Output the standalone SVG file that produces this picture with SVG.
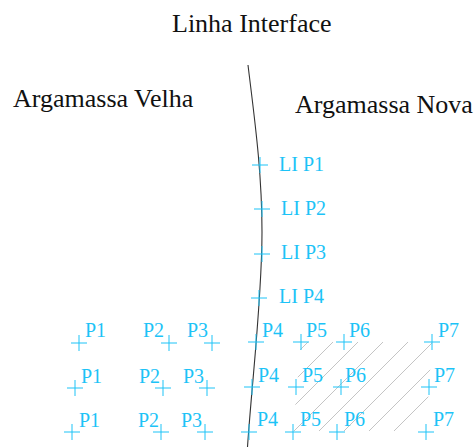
<svg xmlns="http://www.w3.org/2000/svg" width="474" height="447" viewBox="0 0 474 447">
  <style>
    .title { font-family: "Liberation Serif", "Times New Roman", serif; font-size: 26px; fill: #111; }
    .pt { font-family: "Liberation Serif", "Times New Roman", serif; font-size: 20px; fill: #1cc3f7; }
    .cross { stroke: #1cc3f7; stroke-width: 1; fill: none; }
    .hatch { stroke: #c4c4c4; stroke-width: 1; fill: none; }
    .iface { stroke: #333; stroke-width: 1.1; fill: none; }
  </style>
  <defs>
    <path id="x" d="M-8,0H8M0,-8V8" class="cross"/>
    <clipPath id="zone">
      <polygon points="301,342 432,342 426,431 293,431"/>
    </clipPath>
  </defs>

  <rect width="474" height="447" fill="#fff"/>

  <!-- headings -->
  <g id="labels">
    <text class="title" x="172" y="32">Linha Interface</text>
    <text class="title" x="13" y="107">Argamassa Velha</text>
    <text class="title" x="295" y="113">Argamassa Nova</text>
  </g>

  <!-- hatched patch of new mortar -->
  <g id="hatch" clip-path="url(#zone)" class="hatch">
    <path d="M320,330L210,440M345,330L235,440M370,330L260,440M395,330L285,440M420,330L310,440M445,330L335,440M470,330L360,440M495,330L385,440"/>
  </g>

  <!-- interface curve -->
  <g id="connectors">
    <path class="iface" d="M248,65C254,115 262,170 262,232C262,300 252,380 247.5,447"/>
  </g>

  <!-- points on the interface line -->
  <g id="li-p1"><use href="#x" x="260" y="165"/><text class="pt" x="279" y="171">LI P1</text></g>
  <g id="li-p2"><use href="#x" x="262" y="209"/><text class="pt" x="281" y="215">LI P2</text></g>
  <g id="li-p3"><use href="#x" x="262" y="254"/><text class="pt" x="281" y="259">LI P3</text></g>
  <g id="li-p4"><use href="#x" x="259" y="298"/><text class="pt" x="279" y="303">LI P4</text></g>

  <!-- row 1 -->
  <g id="r1-p1"><use href="#x" x="79" y="343"/><text class="pt" x="85" y="337">P1</text></g>
  <g id="r1-p2"><use href="#x" x="169" y="343"/><text class="pt" x="143" y="337">P2</text></g>
  <g id="r1-p3"><use href="#x" x="212" y="343"/><text class="pt" x="187" y="337">P3</text></g>
  <g id="r1-p4"><use href="#x" x="256" y="342"/><text class="pt" x="262" y="337">P4</text></g>
  <g id="r1-p5"><use href="#x" x="301" y="342"/><text class="pt" x="306" y="337">P5</text></g>
  <g id="r1-p6"><use href="#x" x="344" y="342"/><text class="pt" x="349" y="337">P6</text></g>
  <g id="r1-p7"><use href="#x" x="432" y="342"/><text class="pt" x="438" y="337">P7</text></g>

  <!-- row 2 -->
  <g id="r2-p1"><use href="#x" x="75" y="388"/><text class="pt" x="81" y="383">P1</text></g>
  <g id="r2-p2"><use href="#x" x="163" y="388"/><text class="pt" x="139" y="383">P2</text></g>
  <g id="r2-p3"><use href="#x" x="207" y="388"/><text class="pt" x="183" y="383">P3</text></g>
  <g id="r2-p4"><use href="#x" x="252" y="387"/><text class="pt" x="258" y="382">P4</text></g>
  <g id="r2-p5"><use href="#x" x="296" y="387"/><text class="pt" x="302" y="382">P5</text></g>
  <g id="r2-p6"><use href="#x" x="341" y="387"/><text class="pt" x="345" y="382">P6</text></g>
  <g id="r2-p7"><use href="#x" x="429" y="387"/><text class="pt" x="434" y="382">P7</text></g>

  <!-- row 3 -->
  <g id="r3-p1"><use href="#x" x="72" y="432"/><text class="pt" x="79" y="427">P1</text></g>
  <g id="r3-p2"><use href="#x" x="161" y="432"/><text class="pt" x="138" y="427">P2</text></g>
  <g id="r3-p3"><use href="#x" x="205" y="432"/><text class="pt" x="181" y="427">P3</text></g>
  <g id="r3-p4"><use href="#x" x="249" y="432"/><text class="pt" x="257" y="426">P4</text></g>
  <g id="r3-p5"><use href="#x" x="293" y="432"/><text class="pt" x="300" y="426">P5</text></g>
  <g id="r3-p6"><use href="#x" x="337" y="432"/><text class="pt" x="344" y="426">P6</text></g>
  <g id="r3-p7"><use href="#x" x="426" y="432"/><text class="pt" x="433" y="426">P7</text></g>
</svg>
